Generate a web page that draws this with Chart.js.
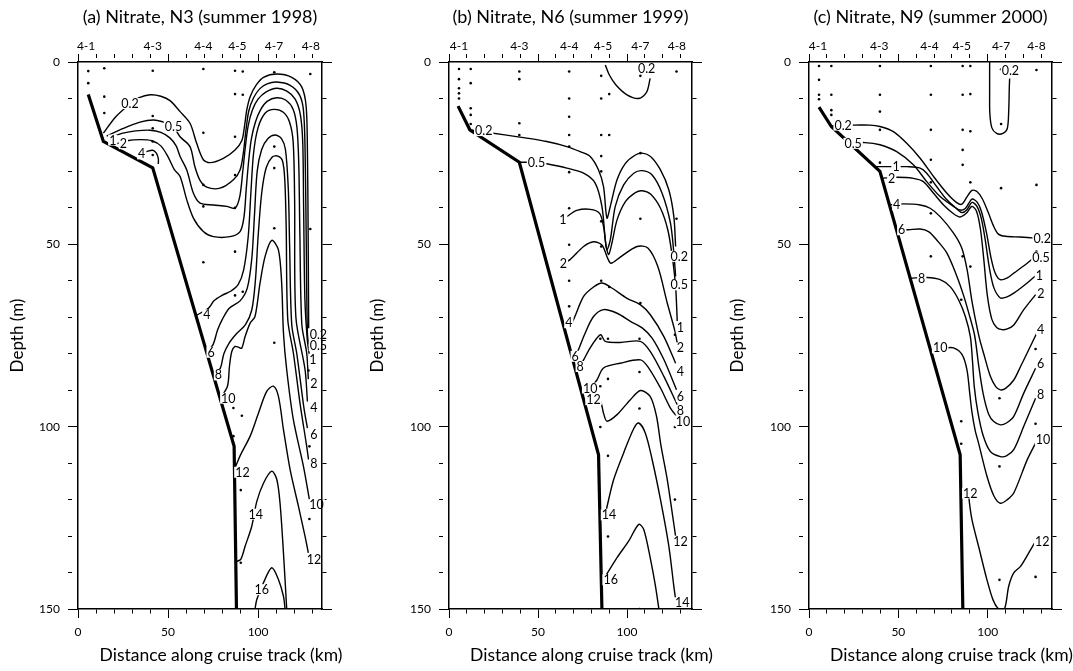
<!DOCTYPE html>
<html>
<head>
<meta charset="utf-8">
<title>Nitrate sections N3, N6, N9</title>
<script src="https://cdn.jsdelivr.net/npm/chart.js@4.4.1/dist/chart.umd.min.js"></script>
<style>
  html, body { margin: 0; padding: 0; background: #fff; }
  #wrap { position: relative; width: 1073px; height: 671px; overflow: hidden; }
  .panel { position: absolute; top: 0; height: 671px; }
</style>
</head>
<body>
<div id="wrap">
  <div class="panel" style="left:0;width:357px"><canvas id="cA" width="357" height="671"></canvas></div>
  <div class="panel" style="left:357px;width:360px"><canvas id="cB" width="360" height="671"></canvas></div>
  <div class="panel" style="left:717px;width:356px"><canvas id="cC" width="356" height="671"></canvas></div>
</div>
<script>
// Nitrate sections along cruise track, three summers
// x = distance along track (km), y = depth (m)

var STATION_NAMES = ['4-1', '4-3', '4-4', '4-5', '4-7', '4-8'];

// ---- (a) N3, summer 1998 ----
var stationsA = [5.7, 14.6, 41.5, 69.6, 87.2, 91.5, 109, 129];
var stationLabelKmA = [4.5, 41.5, 69.6, 88.5, 108.8, 129.3];
var bathyA = [[5.7, 8.9], [14.1, 21.8], [41.5, 29], [86.7, 105.4], [88, 150]];
var dotsA = [
  [5.7, 2.5], [5.7, 5.8],
  [14.6, 1.7], [14.6, 9.5], [14.6, 14],
  [41.5, 2.4], [41.5, 14.8], [41.5, 18.2], [41.5, 21.8], [41.5, 25.5],
  [69.6, 1.9], [69.6, 19.4], [69.6, 33.7], [69.6, 39.6], [69.6, 54.9],
  [87.2, 2.4], [87.2, 8.8], [87.2, 20.5], [87.2, 31], [87.2, 40], [87.2, 52], [87.2, 64], [86.3, 94.9], [86.3, 102.6],
  [91.5, 2.6], [91.5, 9], [91.5, 63], [91, 97], [90.4, 117.4], [90.4, 137.3],
  [109, 2.8], [109, 23.2], [109, 29.1], [109, 45.6], [109, 77],
  [129, 3.3], [129, 45.8], [128, 84.6], [128.5, 105.4], [128.5, 125.3]
];
var linesA = [
  // 0.2
  [[14.1, 19.5], [21, 15], [28.9, 11.5], [34, 9.8], [40, 9.0], [46, 9.4], [51.1, 10.6], [56.7, 13.6], [62.2, 16.8], [65.9, 22.3], [69.6, 26.8], [73.3, 27.6], [80.7, 26.4], [87.2, 24.1], [91, 21.5], [92.5, 17.5], [93.7, 13.2], [95.6, 9.5], [99, 6.3], [103, 4.2], [110.4, 3.3], [118.7, 4.2], [124.3, 6.9], [126.7, 12.2], [127.4, 24.1], [127.8, 46.9], [128.1, 73]],
  // 0.5
  [[15.9, 20.3], [25.2, 18.2], [34.4, 16.5], [41.9, 15.9], [48.3, 16.6], [53, 17.8], [56.7, 20.5], [62.2, 23.2], [64.9, 28.7], [67.6, 32.3], [71.5, 34.3], [78.9, 34.6], [86.3, 32.3], [90, 29.6], [91.8, 25], [93.2, 19], [94.8, 13.5], [97.5, 9.8], [101, 7.3], [105, 6], [110.4, 5.5], [117.8, 6.4], [123, 9], [125.2, 13.2], [126.1, 24.1], [126.7, 46.9], [127.4, 74.3], [128.3, 77.5]],
  // 1
  [[18.7, 20.5], [25, 19.5], [32, 18.9], [40, 18.7], [46, 19.3], [51, 20.8], [54.5, 23], [56.7, 25.9], [60.4, 29.6], [64.1, 36], [67.8, 38.7], [75.2, 39.2], [82.6, 39.6], [87.2, 40.1], [89.8, 37], [91.5, 30], [93, 23], [94.5, 17.5], [96.8, 13.2], [100, 10.2], [104.5, 8.2], [110.4, 7.2], [116, 8], [120.6, 10.2], [123.5, 14.5], [124.8, 22], [125.3, 40], [126, 65], [127.3, 76], [128.5, 80.5]],
  // 2
  [[21, 22.5], [27, 21.6], [35, 21.3], [41, 21.6], [46, 23], [50, 26], [53.5, 29.5], [56.7, 31.4], [60.4, 37.8], [64.1, 42.8], [69.6, 46.5], [75.2, 47.9], [84.4, 47.9], [90, 46.5], [92.2, 42.4], [93.4, 35], [94.8, 27], [96.3, 21], [98.5, 16.5], [101.5, 13], [105, 10.8], [110.4, 9.8], [115.5, 10.5], [119.5, 13], [121.6, 18], [122.6, 28], [123.2, 46.9], [124.3, 72], [127, 79.8], [127.9, 87]],
  // 4 (small piece on the shelf)
  [[37.5, 24.6], [41.5, 24.2], [43.5, 25], [44.6, 26.5], [44.6, 28]],
  // 4
  [[65.7, 69.5], [72.5, 67.5], [75.5, 65.5], [80, 64], [85, 62.8], [89, 61], [92, 57], [94.5, 48], [96, 36], [97.5, 25], [100, 18], [104, 14], [109, 13], [114, 13.8], [117.5, 16.5], [119.5, 22], [120.3, 37.8], [121, 70], [126.1, 84.4], [127.4, 93.1]],
  // 6
  [[71.5, 79.6], [75, 77.5], [77.5, 73.5], [80, 70.7], [84, 67.5], [90, 65.5], [94, 62], [96.5, 54], [98, 42], [99.5, 30], [102, 24], [105.5, 21], [109.4, 20], [113, 21], [115.2, 24], [116.8, 35], [117.5, 50], [118.7, 72], [121.5, 80], [125.5, 95], [127.4, 100.4]],
  // 8
  [[75.3, 85.8], [79, 84], [81, 80], [84, 77], [88, 74.5], [93, 72], [96.5, 68], [98.5, 60], [100, 48], [102, 36], [104.5, 29], [108, 26], [111, 25.8], [113.5, 27], [114.8, 32], [115.6, 45], [116.5, 70.7], [119.6, 79.8], [123.3, 93.6], [127, 105.4], [128, 109]],
  // 10
  [[79, 92.2], [83, 88.9], [84.1, 83.5], [85.4, 79.4], [87.2, 78], [89.1, 78.2], [90.9, 78.5], [92.8, 75.3], [95.6, 71.6], [98.3, 69.8], [101.1, 60.6], [103.9, 53.3], [107.6, 48.9], [111.3, 51.5], [113.1, 60.6], [114.1, 74.3], [115.9, 84.4], [119.6, 98.1], [125.2, 110.9], [128.5, 120]],
  // 12
  [[87.5, 111], [90, 108], [95.6, 102.6], [100.2, 96.3], [104.8, 90.3], [108.5, 88.9], [111.3, 91.7], [114.1, 100.8], [117.8, 111.8], [122.4, 121.8], [126.1, 130.1], [127.9, 134.6]],
  // 14
  [[88, 137], [90.4, 136.4], [92.8, 132.8], [96.5, 127.3], [99.3, 120.5], [103, 115.5], [107.6, 112.2], [110.4, 114.5], [112.2, 121], [114.1, 134.6], [115.9, 150]],
  // 16
  [[98.3, 150], [99.3, 147.4], [103, 142.8], [107.6, 138.7], [111.3, 141.9], [114.1, 146.5], [115, 150]]
];
var labelsA = [
  [28.9, 11.4, '0.2'], [53, 17.6, '0.5'], [19.3, 21.4, '1'], [25.2, 22.4, '2'], [35.4, 25.2, '4'],
  [71.5, 69.3, '4'], [73.9, 79.6, '6'], [78, 85.8, '8'], [83.5, 92.2, '10'], [91.3, 112.5, '12'], [98.7, 124, '14'], [102, 144.7, '16'],
  [133.5, 74.8, '0.2'], [133.5, 77.8, '0.5'], [130.5, 81.5, '1'], [131, 88.2, '2'], [131, 94.6, '4'],
  [131, 102.2, '6'], [131, 110.1, '8'], [132.5, 121.4, '10'], [131, 136.3, '12']
];

// ---- (b) N6, summer 1999 ----
var stationsB = [5.6, 12.2, 39.5, 67.5, 85.5, 90, 107.5, 127.8];
var stationLabelKmB = [5.6, 39.5, 67.5, 86.5, 107.5, 128];
var bathyB = [[5.1, 12.1], [11.7, 18.6], [39.5, 27.5], [84, 107.7], [85.9, 150]];
var dotsB = [
  [5.6, 1.9], [5.6, 4.7], [5.6, 7.2], [5.6, 8.6], [5.6, 10],
  [12.2, 1.9], [12.2, 5.8], [12.2, 12.7], [12.2, 14.5], [12.2, 17],
  [39.5, 2.6], [39.5, 4.7], [39.5, 16.8], [39.5, 20],
  [67.5, 2.6], [67.5, 10], [67.5, 15], [67.5, 20], [67.5, 23.2], [67.5, 30.2], [67.5, 40.1], [67.5, 50.1], [67.5, 60], [67.5, 67],
  [85.5, 3.8], [85.5, 10], [85.5, 20], [85.5, 25.8], [85.5, 30], [85.5, 43.7], [85.5, 50.6], [85.5, 60], [85, 75.9], [85, 88.9], [85, 100.1],
  [90, 8.8], [90, 20], [90, 61.7], [89.3, 75.9], [89.3, 86.9], [89.3, 108], [89.3, 130.1],
  [107.5, 3.8], [107.5, 25], [107.5, 43], [107.5, 66.1], [107, 75.9], [107, 85], [107, 95], [107, 150],
  [127.8, 2.6], [127.8, 43], [126.9, 74.8], [126.9, 100.1], [126.9, 120]
];
var linesB = [
  // 0.2 (surface patch)
  [[87.8, 0.8], [90, 3.5], [93.8, 6.3], [100, 9], [106.6, 10], [111, 8.3], [113, 4.5]],
  // 0.2
  [[11.7, 18.6], [16, 19], [22.9, 19.4], [39.8, 20.6], [54.9, 21.8], [66.2, 23.2], [73.7, 24.6], [79.3, 25.9], [84, 29.6], [86.8, 34.2], [88.7, 42.8], [90.6, 39.6], [94.4, 32.3], [99.1, 27.8], [104.7, 25.5], [108.5, 25], [113.2, 25.9], [118.8, 29.6], [123.5, 35.1], [126.3, 42.4], [127.3, 50.6]],
  // 0.5
  [[39.5, 27.5], [49.2, 27.5], [54.9, 27.9], [66.2, 29.1], [75.6, 30.5], [82.1, 33.2], [85.9, 39.6], [87.8, 48.8], [88.7, 51.5], [90.6, 48.8], [93.4, 39.6], [98.1, 33.7], [103.8, 30.5], [108.5, 29.8], [114.1, 31], [119.7, 36], [124.4, 44.2], [126.3, 52.4], [127.3, 58.8]],
  // 1
  [[63.9, 43.3], [66.2, 42.4], [71.8, 40.7], [79.3, 40.4], [84.6, 41.5], [86.8, 45.1], [88.3, 50.6], [89.7, 52.8], [91.5, 49.7], [94.4, 43.3], [99.1, 38.3], [104.7, 35.8], [108.5, 35.3], [113.2, 36.2], [118.8, 40.1], [122.9, 46], [125.4, 53.3], [127.3, 61.6], [128.2, 71]],
  // 2
  [[64.3, 55.2], [68, 54.2], [75.6, 50.6], [81.2, 49.3], [85.9, 50.2], [89.1, 53.8], [91, 55.2], [96.2, 53.5], [105.6, 50.6], [111.7, 51], [117.3, 56.1], [122.6, 66.1], [126.7, 73.4], [128.2, 77.1]],
  // 4
  [[67.3, 71.5], [69, 71.6], [75.6, 64.3], [81.2, 61.7], [85.9, 60.6], [90.6, 61.7], [100, 64.8], [107.6, 66.6], [113.1, 69.3], [120.7, 75.3], [127.3, 82.6]],
  // 6
  [[70.9, 80.7], [72.7, 78.9], [76.5, 74.3], [81.2, 69.8], [86.8, 67.9], [94.4, 68.9], [101.9, 71.1], [108.5, 72.9], [114.1, 75.7], [120.7, 81.6], [127.8, 89.9]],
  // 8
  [[73.7, 83.5], [75.6, 81.7], [79.3, 78.4], [83.1, 75.7], [85.3, 74.8], [87.8, 76.6], [96.2, 76.9], [107.5, 76.6], [113.1, 79.4], [120.7, 86.2], [128.2, 94]],
  // 10
  [[79.3, 89.4], [83.1, 87.2], [86.8, 83.9], [96.2, 82.6], [107.6, 81.7], [112.3, 84], [118.8, 89.4], [124.4, 94.9], [128.6, 97.6]],
  // 12
  [[81.2, 92.6], [85, 93.1], [86.8, 96.3], [88.7, 98.5], [94.4, 96.7], [101.9, 92.6], [107.6, 90.1], [113, 91.7], [116.5, 97], [119, 105], [122.6, 114.5], [125.4, 123.7], [127.3, 130.1]],
  // 14
  [[88.5, 122.5], [92.5, 114.5], [98.1, 107.2], [103.8, 100.5], [106.6, 99], [110.3, 101.8], [114.1, 109], [118.8, 120], [123.5, 132.8], [126.3, 143.8], [127.3, 147.4]],
  // 16
  [[88.5, 140.5], [94.4, 135.9], [100.9, 131.4], [106.6, 126.8], [109.4, 128.2], [113.2, 136.4], [116, 143.8], [117.9, 150]]
];
var labelsB = [
  [19.5, 18.8, '0.2'], [49.2, 27.5, '0.5'], [63.9, 43.3, '1'], [64.3, 55.2, '2'], [67.3, 71.5, '4'],
  [70.9, 80.7, '6'], [73.7, 83.5, '8'], [79.3, 89.4, '10'], [81.2, 92.6, '12'], [89.9, 124.2, '14'], [90.8, 142, '16'],
  [111, 1.8, '0.2'],
  [129.3, 53.3, '0.2'], [129.3, 61.1, '0.5'], [130, 72.9, '1'], [130, 78.4, '2'], [130, 84.8, '4'],
  [130, 91.7, '6'], [130, 95.5, '8'], [131.4, 98.5, '10'], [130, 131.4, '12'], [131, 148.3, '14']
];

// ---- (c) N9, summer 2000 ----
var stationsC = [5.6, 12.5, 39.7, 68.2, 86, 90.3, 107.5, 127.3];
var stationLabelKmC = [5, 39.3, 67.4, 85.5, 107.5, 127.3];
var bathyC = [[5.6, 12.4], [12.5, 17.7], [39.7, 30], [84.6, 107.7], [86.1, 150]];
var dotsC = [
  [5.6, 1.1], [5.6, 4.9], [5.6, 9], [5.6, 10.2],
  [12.5, 1.1], [12.5, 9], [12.5, 13.2], [12.5, 14.5],
  [39.7, 1.1], [39.7, 9], [39.7, 13.6], [39.7, 18.6], [39.7, 27.6],
  [68.2, 1.1], [68.2, 9], [68.2, 18.6], [68.2, 26.8], [68.2, 33], [68.2, 41.5], [68.2, 53.3],
  [86, 1.1], [86, 9], [86, 18.6], [86, 24.1], [86, 28.2], [86, 53.3], [85.2, 65.2], [85.2, 98.5], [85.2, 104.7],
  [90.3, 1.1], [90.3, 8.8], [90.3, 19], [90.3, 33], [90.3, 56.1],
  [107.5, 2], [107.5, 17], [107.5, 34.6], [106.6, 92.2], [106.6, 110.9], [106.6, 142],
  [127.3, 2.2], [127.3, 33.7], [127.3, 52], [126.8, 78.7], [126.8, 99.2], [126.8, 141.2]
];
var linesC = [
  // 0.2 (surface tongue)
  [[101.1, 0], [101.1, 8], [101.2, 14], [102.3, 18], [105, 19.6], [108.5, 19.6], [111, 18.2], [111.8, 13], [112.1, 7], [112.3, 4.5]],
  // 0.2
  [[12.8, 17.6], [19.1, 17.3], [25.7, 17.3], [34, 17.3], [39.7, 17.7], [47.2, 19.1], [54.7, 22.3], [62.2, 26.4], [69.7, 31.4], [77.2, 36], [82.5, 38.5], [85.6, 39], [88.4, 37], [91.2, 35.2], [94, 35.5], [97, 37.5], [100.5, 41.5], [103.4, 45.1], [106, 47.2], [110, 47.8], [118, 48], [126.5, 48.3]],
  // 0.5
  [[22.7, 22.3], [31.3, 22.1], [39.7, 22.7], [49.1, 24.6], [58.4, 28.2], [65.9, 32.8], [73.4, 36.9], [80.9, 39.6], [84.6, 40.6], [87.5, 40.2], [91.2, 37.6], [94.2, 38.5], [96.5, 41], [99.4, 47], [102, 54], [104.3, 58], [107.1, 59.7], [111, 59.2], [114.6, 57.9], [122.1, 55.2], [126.8, 53.3]],
  // 1
  [[37, 28.7], [48.7, 28.7], [54.7, 28.7], [62.2, 29.1], [65.9, 30.5], [71.5, 34.2], [77.2, 37.8], [82.8, 40.3], [85.6, 41.3], [88.4, 40.5], [91.2, 38.5], [94, 39.6], [96.5, 43], [98.7, 49], [100.8, 56], [103.4, 61.8], [107.1, 64.7], [110.5, 64.5], [114.6, 63.4], [122.1, 60.6], [126.8, 58.6]],
  // 2
  [[40.8, 31.9], [49.1, 31.6], [58.4, 31.9], [64, 32.8], [69.7, 36], [75.3, 39.2], [80.9, 41.6], [84.6, 42.5], [88, 41.5], [91.2, 39.6], [93.8, 41], [96, 46], [97.8, 54], [99.8, 64], [102.3, 70.5], [105, 72.8], [108, 73.4], [111, 73.2], [114.6, 72.1], [120.2, 67.9], [126.8, 63.8]],
  // 4
  [[45, 39.2], [52.8, 38.9], [62.2, 39.2], [67.8, 40.1], [73.4, 42.4], [80.9, 46.9], [85.5, 51], [88.5, 57], [91, 65], [93.5, 71.5], [95.5, 76], [97.8, 80], [101.5, 86.2], [104.5, 89], [107.1, 89.9], [110, 89.5], [114.6, 87.2], [118.4, 83.5], [122.1, 79.8], [127.5, 74.3]],
  // 6
  [[49.3, 46], [55.6, 46], [62.2, 45.8], [66.9, 46.5], [71.5, 48.8], [77.2, 52.4], [82.8, 58.8], [86.5, 64], [89.5, 69], [92.7, 75], [94.9, 83], [97.5, 91], [100.5, 96.5], [103.4, 98.6], [107.1, 99.5], [110.5, 99], [114.6, 97.2], [120.2, 90.8], [126.8, 84]],
  // 8
  [[57, 59.3], [65.9, 59.1], [73.4, 59.7], [79, 61.6], [83.7, 65.2], [87.5, 69.8], [90.3, 75.3], [91.5, 82], [92.5, 89], [94.5, 96], [97.5, 102.5], [101.5, 106.8], [107.1, 108.2], [110.5, 108], [114.6, 106.3], [120.2, 99.9], [126.8, 92.2]],
  // 10
  [[76, 78.4], [80.9, 78.4], [85.6, 80.2], [88.4, 84.4], [90, 91], [91.2, 96], [93, 101], [94.9, 104.5], [99.6, 113.6], [103.5, 119], [107.1, 121], [111, 120], [114.6, 118.2], [122.1, 109.1], [126.8, 104.5]],
  // 12
  [[89.5, 118.5], [89.7, 120.5], [91.2, 125.5], [94.9, 132.8], [99.6, 142], [103, 147.5], [106.2, 150], [109.4, 150], [111.8, 143.7], [114.6, 140.1], [118.4, 138.3], [123, 134.6], [126.8, 131.4]]
];
var labelsC = [
  [19.1, 17.3, '0.2'], [24.7, 22.3, '0.5'], [48.7, 28.7, '1'], [46.3, 31.9, '2'], [49.1, 39.2, '4'],
  [51.9, 46, '6'], [63.1, 59.3, '8'], [73.4, 78.4, '10'], [90.3, 118.2, '12'],
  [112.7, 2.4, '0.2'],
  [130.5, 48.3, '0.2'], [129.8, 53.5, '0.5'], [128.9, 58.5, '1'], [129.8, 63.4, '2'], [129.6, 73.4, '4'],
  [129.6, 82.6, '6'], [129.6, 91.2, '8'], [131, 103.6, '10'], [130.5, 131.4, '12']
];

// Chart setup

Chart.defaults.font.family = 'Lato, "Open Sans", sans-serif';
Chart.defaults.color = '#000';
Chart.defaults.animation = false;

var FONT = 'Lato, "Open Sans", sans-serif';

// 50-unit ticks are drawn long, the rest short (dash cuts them off)
function isMajor(v) { return Math.abs(v % 50) < 1e-6; }
function tickDash(ctx) {
  return (ctx.tick && isMajor(ctx.tick.value)) ? [] : [4, 40];
}

function toXY(list) {
  return list.map(function(p) { return { x: p[0], y: p[1] }; });
}

// Contour value labels on a white patch so the line looks broken
var contourLabelPlugin = {
  id: 'contourLabels',
  afterDatasetsDraw: function(chart, args, opts) {
    var ctx = chart.ctx;
    var xs = chart.scales.x, ys = chart.scales.y;
    ctx.save();
    ctx.font = '12.5px ' + FONT;
    ctx.textAlign = 'center';
    ctx.textBaseline = 'middle';
    (opts.items || []).forEach(function(l) {
      var px = xs.getPixelForValue(l[0]);
      var py = ys.getPixelForValue(l[1]);
      var w = ctx.measureText(l[2]).width;
      ctx.fillStyle = '#fff';
      ctx.fillRect(px - w / 2 - 1, py - 5.5, w + 2, 11);
      ctx.fillStyle = '#000';
      ctx.fillText(l[2], px, py + 0.5);
    });
    ctx.restore();
  }
};

// Panel title and x-axis caption
var captionPlugin = {
  id: 'captions',
  afterDraw: function(chart, args, opts) {
    var a = chart.chartArea, ctx = chart.ctx;
    var mid = (a.left + a.right) / 2;
    ctx.save();
    ctx.fillStyle = '#000';
    ctx.textAlign = 'center';
    ctx.textBaseline = 'middle';
    ctx.font = '18px ' + FONT;
    ctx.fillText(opts.title, mid, 17);
    ctx.font = '17.5px ' + FONT;
    ctx.fillText('Distance along cruise track (km)', mid + 21, 655);
    ctx.restore();
  }
};

function buildPanel(canvasId, p) {
  var datasets = [];

  p.lines.forEach(function(c) {
    datasets.push({
      data: toXY(c), showLine: true, fill: false,
      borderColor: '#000', borderWidth: 1.4,
      pointRadius: 0, tension: 0.3
    });
  });

  // bottom profile
  datasets.push({
    data: toXY(p.bathy), showLine: true, fill: false,
    borderColor: '#000', borderWidth: 3.2, pointRadius: 0, tension: 0
  });

  // sample depths
  datasets.push({
    data: toXY(p.dots), showLine: false,
    pointRadius: 1.3, backgroundColor: '#000', borderColor: '#000', pointBorderWidth: 0
  });

  // station markers above the frame
  datasets.push({
    data: p.stations.map(function(k) { return { x: k, y: -1.3 }; }),
    showLine: false, clip: false,
    pointStyle: 'triangle', rotation: 180, pointRadius: 3.3,
    backgroundColor: '#000', borderColor: '#000', pointBorderWidth: 0
  });

  return new Chart(document.getElementById(canvasId), {
    type: 'scatter',
    data: { datasets: datasets },
    plugins: [contourLabelPlugin, captionPlugin],
    options: {
      responsive: false,
      maintainAspectRatio: false,
      events: [],
      layout: { padding: 0 },
      plugins: {
        legend: { display: false },
        tooltip: { enabled: false },
        title: { display: false },
        contourLabels: { items: p.labels },
        captions: { title: p.title }
      },
      scales: {
        x: {
          type: 'linear', position: 'bottom', min: 0, max: p.xMax,
          ticks: {
            stepSize: 10, autoSkip: false, maxRotation: 0, includeBounds: false, padding: 7,
            font: { size: 12 },
            callback: function(v) { return isMajor(v) ? String(v) : ''; }
          },
          grid: { drawOnChartArea: false, tickLength: 9, tickColor: '#000', tickBorderDash: tickDash },
          border: { color: '#000', width: 1.5, z: 1 },
          afterFit: function(s) { s.height = 62; }
        },
        xTop: {
          type: 'linear', position: 'top', min: 0, max: p.xMax, weight: 0,
          ticks: { stepSize: 10, display: false, includeBounds: false },
          grid: { drawOnChartArea: false, tickLength: 8, tickColor: '#000', tickBorderDash: tickDash },
          border: { color: '#000', width: 1.5, z: 1 },
          afterFit: function(s) { s.height = 8; }
        },
        xSt: {
          type: 'linear', position: 'top', min: 0, max: p.xMax, weight: 1,
          afterBuildTicks: function(s) {
            s.ticks = p.labelKm.map(function(v) { return { value: v }; });
          },
          ticks: {
            autoSkip: false, maxRotation: 0, padding: 1, font: { size: 12 },
            callback: function(v, i) { return STATION_NAMES[i]; }
          },
          grid: { display: false, drawTicks: false },
          border: { display: false },
          afterFit: function(s) { s.height = 54; }
        },
        y: {
          type: 'linear', position: 'left', reverse: true, min: 0, max: 150,
          ticks: {
            stepSize: 10, autoSkip: false, padding: 8, font: { size: 12 },
            callback: function(v) { return isMajor(v) ? String(v) : ''; }
          },
          grid: { drawOnChartArea: false, tickLength: 10, tickColor: '#000', tickBorderDash: tickDash },
          border: { color: '#000', width: 1.5, z: 1 },
          title: {
            display: true, text: 'Depth (m)', font: { size: 17 },
            padding: { top: p.yTitlePad, bottom: 0 }
          },
          afterFit: function(s) { s.width = p.leftW; }
        },
        y2: {
          type: 'linear', position: 'right', reverse: true, min: 0, max: 150,
          ticks: { stepSize: 10, display: false },
          grid: { drawOnChartArea: false, tickLength: 10, tickColor: '#000', tickBorderDash: tickDash },
          border: { color: '#000', width: 1.5, z: 1 },
          afterFit: function(s) { s.width = p.rightW; }
        }
      }
    }
  });
}

buildPanel('cA', {
  title: '(a) Nitrate, N3 (summer 1998)', xMax: 135.5, leftW: 78, rightW: 35, yTitlePad: 7,
  lines: linesA, bathy: bathyA, dots: dotsA, labels: labelsA,
  stations: stationsA, labelKm: stationLabelKmA
});
buildPanel('cB', {
  title: '(b) Nitrate, N6 (summer 1999)', xMax: 136.5, leftW: 92, rightW: 25, yTitlePad: 10,
  lines: linesB, bathy: bathyB, dots: dotsB, labels: labelsB,
  stations: stationsB, labelKm: stationLabelKmB
});
buildPanel('cC', {
  title: '(c) Nitrate, N9 (summer 2000)', xMax: 136, leftW: 92, rightW: 21, yTitlePad: 10,
  lines: linesC, bathy: bathyC, dots: dotsC, labels: labelsC,
  stations: stationsC, labelKm: stationLabelKmC
});
</script>
</body>
</html>
